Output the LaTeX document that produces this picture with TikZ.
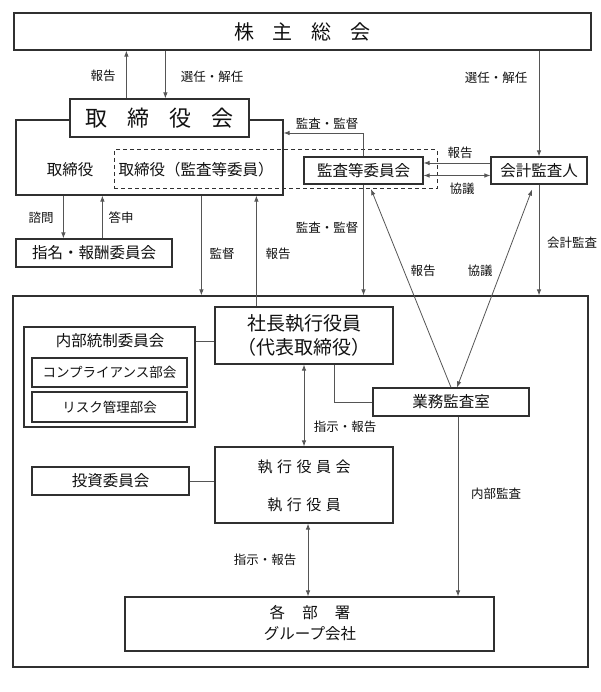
\documentclass[tikz,border=0pt]{standalone}
\usepackage{fontspec}
\setmainfont{Noto Sans CJK JP}
\usetikzlibrary{arrows.meta,calc}
\definecolor{boxc}{HTML}{303030}
\definecolor{linec}{HTML}{555555}
\definecolor{txtc}{HTML}{111111}
\begin{document}
\begin{tikzpicture}[x=1pt,y=-1pt,
  box/.style={draw=boxc, line width=1.2pt, fill=white, inner sep=0pt, text=txtc, align=center},
  sz/.style 2 args={minimum width=#1pt, minimum height=#2pt},
  bt/.style={font=\fontsize{15.5}{19}\selectfont},
  lbl/.style={font=\fontsize{12.5}{14}\selectfont, inner sep=0pt, text=txtc},
  conn/.style={draw=linec, line width=0.8pt},
  arr/.style={conn, -{Latex[length=6pt,width=4.5pt]}},
  darr/.style={conn, {Latex[length=6pt,width=4.5pt]}-{Latex[length=6pt,width=4.5pt]}},
  dashbox/.style={draw=boxc, line width=1pt, dash pattern=on 4pt off 3pt, inner sep=0pt}
]
\useasboundingbox (0,0) rectangle (600,692);

% ---- boxes ----
\node[box, sz={577}{37}, font=\fontsize{20}{24}\selectfont] (kabu) at (302.5,31.5)
  {株\hspace{0.95em}主\hspace{0.95em}総\hspace{0.95em}会};
\node[box, sz={267}{75}] (bodouter) at (149.5,157.5) {};
\node[dashbox, fill=none, sz={323}{39}] (dash) at (275.5,169.5) {};
\node[box, sz={179}{38}, font=\fontsize{22}{26}\selectfont] (bod) at (159.5,118)
  {取\hspace{0.9em}締\hspace{0.9em}役\hspace{0.9em}会};
\node[box, bt, sz={119}{27}] (kansa) at (363.5,170.5) {監査等委員会};
\node[box, bt, sz={96}{27}] (kaikei) at (539,170.5) {会計監査人};
\node[box, bt, sz={156}{28}] (shimei) at (94,253) {指名・報酬委員会};

\node[box, fill=none, sz={575}{371}] (big) at (300.5,481.5) {};
\node[box, sz={178}{57}, font=\fontsize{19}{24}\selectfont] (shacho) at (304,335.5)
  {社長執行役員\\（代表取締役）};
\node[box, sz={171}{100}] (naibu) at (109.5,377) {};
\node[box, sz={155}{29}, font=\fontsize{13.5}{16}\selectfont] (comp) at (109.5,372.5) {コンプライアンス部会};
\node[box, sz={155}{30}, font=\fontsize{13.5}{16}\selectfont] (risk) at (109.5,407) {リスク管理部会};
\node[box, bt, sz={156}{28}] (gyomu) at (451,402) {業務監査室};
\node[box, sz={178}{76}] (shikko) at (304,485) {};
\node[box, bt, sz={157}{28}] (toshi) at (110.5,481) {投資委員会};
\node[box, sz={369}{54}] (kakubu) at (309.5,624) {};

% ---- texts inside boxes ----
\node[lbl, font=\fontsize{15.5}{18}\selectfont] (t_tori) at (70,170) {取締役};
\node[lbl, font=\fontsize{15.5}{18}\selectfont] (t_torik) at (196,170) {取締役（監査等委員）};
\node[lbl, font=\fontsize{15.5}{18}\selectfont] (t_naibu) at (110,341) {内部統制委員会};
\node[lbl, font=\fontsize{15}{18}\selectfont] (t_shk1) at (304,467)
  {執\hspace{0.3em}行\hspace{0.3em}役\hspace{0.3em}員\hspace{0.3em}会};
\node[lbl, font=\fontsize{15}{18}\selectfont] (t_shk2) at (304,505)
  {執\hspace{0.3em}行\hspace{0.3em}役\hspace{0.3em}員};
\node[lbl, font=\fontsize{15.5}{18}\selectfont] (t_kak1) at (310,613)
  {各\hspace{1.1em}部\hspace{1.1em}署};
\node[lbl, font=\fontsize{15.5}{18}\selectfont] (t_kak2) at (310,634) {グループ会社};

% ---- helper coordinates ----
\path ([xshift=57pt]bod.north west) coordinate (p_hou)
      ([xshift=96pt]bod.north west) coordinate (p_sen)
      ([yshift=24.5pt]bodouter.east) coordinate (p_kan)
      ([xshift=186pt]bodouter.south west) coordinate (p_kantoku)
      ([xshift=42pt]shacho.north west) coordinate (p_houkoku)
      ([xshift=48pt]bodouter.south west) coordinate (p_shimon)
      ([xshift=87pt]shimei.north west) coordinate (p_toshin)
      ([yshift=7.5pt]kaikei.west) coordinate (p_kh)
      ([yshift=-5pt]kansa.east) coordinate (p_kk)
      ([xshift=7.5pt,yshift=-4.5pt]kansa.south) coordinate (p_dg1)
      ([xshift=-7pt,yshift=-5pt]kaikei.south) coordinate (p_dg2)
      ([xshift=6pt]gyomu.north) coordinate (p_dg3)
      ([yshift=-5.5pt]shacho.west) coordinate (p_nb)
      ([xshift=30pt]shacho.south) coordinate (p_sg)
      ([xshift=4pt]shikko.south) coordinate (p_sk)
      ([xshift=7pt]gyomu.south) coordinate (p_nk);

% ---- connectors ----
\draw[arr] (p_hou) -- (p_hou |- kabu.south);
\draw[arr] (p_sen |- kabu.south) -- (p_sen);
\draw[arr] (kaikei.north |- kabu.south) -- (kaikei.north);
\draw[arr] (kaikei.south) -- (kaikei.south |- big.north);
\draw[arr] (p_kh) -- (p_kh -| kansa.east);
\draw[darr] (p_kk) -- (p_kk -| kaikei.west);
\draw[arr] (kansa.north) |- (p_kan);
\draw[arr] (kansa.south) -- (kansa.south |- big.north);
\draw[arr] (p_kantoku) -- (p_kantoku |- big.north);
\draw[arr] (p_houkoku) -- (p_houkoku |- bodouter.south);
\draw[arr] (p_shimon) -- (p_shimon |- shimei.north);
\draw[arr] (p_toshin) -- (p_toshin |- bodouter.south);
\draw[arr] (gyomu.north) -- (p_dg1);
\draw[darr] (p_dg2) -- (p_dg3);
\draw[conn] (p_nb) -- (p_nb -| naibu.east);
\draw[conn] (toshi.east) -- (toshi.east -| shikko.west);
\draw[conn] (p_sg) |- (gyomu.west);
\draw[darr] (shacho.south) -- (shikko.north);
\draw[darr] (p_sk) -- (p_sk |- kakubu.north);
\draw[arr] (p_nk) -- (p_nk |- kakubu.north);

% ---- connector labels ----
\node[lbl] (l1) at (103,76) {報告};
\node[lbl] (l2) at (212,77) {選任・解任};
\node[lbl] (l3) at (496,78) {選任・解任};
\node[lbl] (l4) at (327,124) {監査・監督};
\node[lbl] (l5) at (460,153) {報告};
\node[lbl] (l6) at (462,189) {協議};
\node[lbl] (l7) at (41,218) {諮問};
\node[lbl] (l8) at (121,218) {答申};
\node[lbl] (l9) at (327,228) {監査・監督};
\node[lbl] (l10) at (222,254) {監督};
\node[lbl] (l11) at (278,254) {報告};
\node[lbl] (l12) at (423,271) {報告};
\node[lbl] (l13) at (480,271) {協議};
\node[lbl] (l14) at (572,243) {会計監査};
\node[lbl] (l15) at (345,427) {指示・報告};
\node[lbl] (l16) at (496,494) {内部監査};
\node[lbl] (l17) at (265,560) {指示・報告};
\end{tikzpicture}
\end{document}
